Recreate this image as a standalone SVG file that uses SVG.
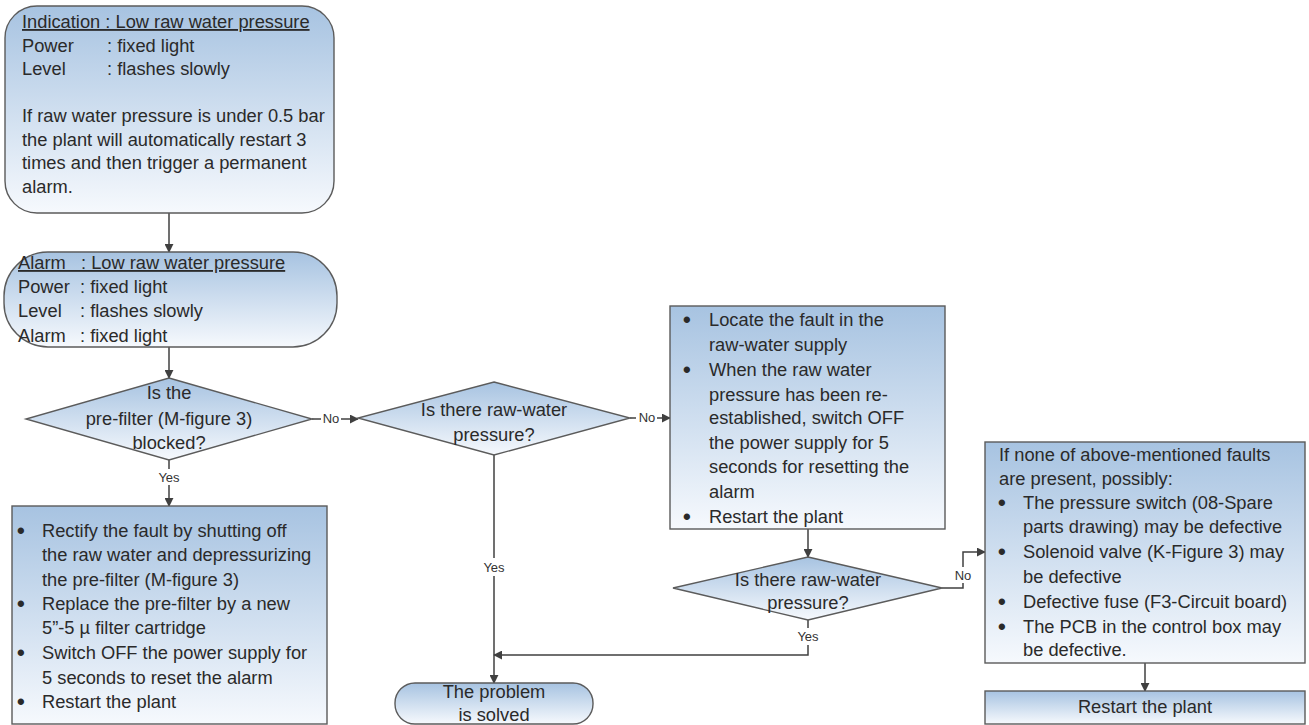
<svg xmlns="http://www.w3.org/2000/svg" width="1309" height="725" viewBox="0 0 1309 725">
<defs>
<linearGradient id="g" x1="0" y1="0" x2="0" y2="1">
<stop offset="0" stop-color="#a7c3e1"/>
<stop offset="1" stop-color="#f6f9fd"/>
</linearGradient>
<marker id="ah" viewBox="0 0 10 10" refX="9" refY="5" markerWidth="9" markerHeight="9" markerUnits="userSpaceOnUse" orient="auto">
<path d="M0,0 L10,5 L0,10 z" fill="#404040"/>
</marker>
</defs>
<style>
.n{fill:url(#g);stroke:#5b5b5b;stroke-width:1.4}
.t{font-family:"Liberation Sans",Arial,sans-serif;font-size:18.3px;fill:#2a2a2a}
.b{font-weight:bold;font-size:22px}
.c{text-anchor:middle}
.u{text-decoration:underline}
.l{font-family:"Liberation Sans",Arial,sans-serif;font-size:13px;fill:#333;text-anchor:middle}
.e{fill:none;stroke:#404040;stroke-width:1.5;marker-end:url(#ah)}
.p{fill:none;stroke:#404040;stroke-width:1.5}
</style>

<g id="connectors">
<path class="e" d="M169,213 V252"/>
<path class="e" d="M169,347 V378"/>
<path class="p" d="M312,419 H321"/>
<path class="e" d="M341,419 H358"/>
<path class="p" d="M169,460 V469"/>
<path class="e" d="M169,485 V506"/>
<path class="p" d="M630,418 H636"/>
<path class="e" d="M657,418 H670"/>
<path class="p" d="M494,455 V558"/>
<path class="e" d="M494,576 V683"/>
<path class="e" d="M808,529 V557"/>
<path class="p" d="M808,620 V628"/>
<path class="e" d="M808,645 V655 H494"/>
<path class="p" d="M942,588 H963 V583"/>
<path class="e" d="M963,567 V552 H985"/>
<path class="e" d="M1145,663 V691"/>
<text class="l" x="331" y="423">No</text>
<text class="l" x="647" y="422">No</text>
<text class="l" x="169" y="482">Yes</text>
<text class="l" x="494" y="572">Yes</text>
<text class="l" x="808" y="641">Yes</text>
<text class="l" x="963" y="580">No</text>
</g>

<g id="indication">
<rect class="n" x="5" y="6" width="329" height="207" rx="32"/>
<text class="t u" x="22" y="28">Indication : Low raw water pressure</text>
<text class="t" x="22" y="51.5">Power<tspan x="107">: fixed light</tspan></text>
<text class="t" x="22" y="75">Level<tspan x="107">: flashes slowly</tspan></text>
<text class="t" x="22" y="122">If raw water pressure is under 0.5 bar</text>
<text class="t" x="22" y="145.5">the plant will automatically restart 3</text>
<text class="t" x="22" y="169">times and then trigger a permanent</text>
<text class="t" x="22" y="193">alarm.</text>
</g>

<g id="alarm">
<rect class="n" x="4" y="252" width="333" height="95" rx="44"/>
<text class="t u" x="18" y="269">Alarm&#160;&#160;&#160;: Low raw water pressure</text>
<text class="t" x="18" y="293">Power<tspan x="80">: fixed light</tspan></text>
<text class="t" x="18" y="317">Level<tspan x="80">: flashes slowly</tspan></text>
<text class="t" x="18" y="342">Alarm<tspan x="80">: fixed light</tspan></text>
</g>

<g id="prefilter-decision">
<polygon class="n" points="169,378 312,419 169,460 26,419"/>
<text class="t c" x="169" y="399">Is the</text>
<text class="t c" x="169" y="425">pre-filter (M-figure 3)</text>
<text class="t c" x="169" y="449">blocked?</text>
</g>

<g id="rectify">
<rect class="n" x="12" y="506" width="315" height="218"/>
<text class="t" x="17" y="538"><tspan class="b">•</tspan><tspan x="42" y="537">Rectify the fault by shutting off</tspan></text>
<text class="t" x="42" y="561">the raw water and depressurizing</text>
<text class="t" x="42" y="586">the pre-filter (M-figure 3)</text>
<text class="t" x="17" y="611"><tspan class="b">•</tspan><tspan x="42" y="610">Replace the pre-filter by a new</tspan></text>
<text class="t" x="42" y="634">5”-5 µ filter cartridge</text>
<text class="t" x="17" y="660"><tspan class="b">•</tspan><tspan x="42" y="659">Switch OFF the power supply for</tspan></text>
<text class="t" x="42" y="684">5 seconds to reset the alarm</text>
<text class="t" x="17" y="709"><tspan class="b">•</tspan><tspan x="42" y="708">Restart the plant</tspan></text>
</g>

<g id="pressure-decision-1">
<polygon class="n" points="494,382 630,418 494,455 358,418"/>
<text class="t c" x="494" y="416">Is there raw-water</text>
<text class="t c" x="494" y="441">pressure?</text>
</g>

<g id="locate">
<rect class="n" x="670" y="306" width="275" height="223"/>
<text class="t" x="683" y="327"><tspan class="b">•</tspan><tspan x="709" y="326">Locate the fault in the</tspan></text>
<text class="t" x="709" y="351">raw-water supply</text>
<text class="t" x="683" y="377"><tspan class="b">•</tspan><tspan x="709" y="376">When the raw water</tspan></text>
<text class="t" x="709" y="401">pressure has been re-</text>
<text class="t" x="709" y="424">established, switch OFF</text>
<text class="t" x="709" y="449">the power supply for 5</text>
<text class="t" x="709" y="473">seconds for resetting the</text>
<text class="t" x="709" y="498">alarm</text>
<text class="t" x="683" y="524"><tspan class="b">•</tspan><tspan x="709" y="523">Restart the plant</tspan></text>
</g>

<g id="pressure-decision-2">
<polygon class="n" points="808,557 942,588 808,620 673,588"/>
<text class="t c" x="808" y="586">Is there raw-water</text>
<text class="t c" x="808" y="609">pressure?</text>
</g>

<g id="solved">
<rect class="n" x="395" y="683" width="198" height="41" rx="20"/>
<text class="t c" x="494" y="698">The problem</text>
<text class="t c" x="494" y="721">is solved</text>
</g>

<g id="possible-faults">
<rect class="n" x="985" y="442" width="320" height="221"/>
<text class="t" x="999" y="461">If none of above-mentioned faults</text>
<text class="t" x="999" y="485">are present, possibly:</text>
<text class="t" x="998" y="510"><tspan class="b">•</tspan><tspan x="1023" y="509">The pressure switch (08-Spare</tspan></text>
<text class="t" x="1023" y="533">parts drawing) may be defective</text>
<text class="t" x="998" y="559"><tspan class="b">•</tspan><tspan x="1023" y="558">Solenoid valve (K-Figure 3) may</tspan></text>
<text class="t" x="1023" y="583">be defective</text>
<text class="t" x="998" y="609"><tspan class="b">•</tspan><tspan x="1023" y="608">Defective fuse (F3-Circuit board)</tspan></text>
<text class="t" x="998" y="634"><tspan class="b">•</tspan><tspan x="1023" y="633">The PCB in the control box may</tspan></text>
<text class="t" x="1023" y="656">be defective.</text>
</g>

<g id="restart">
<rect class="n" x="985" y="691" width="320" height="33"/>
<text class="t c" x="1145" y="713">Restart the plant</text>
</g>
</svg>
